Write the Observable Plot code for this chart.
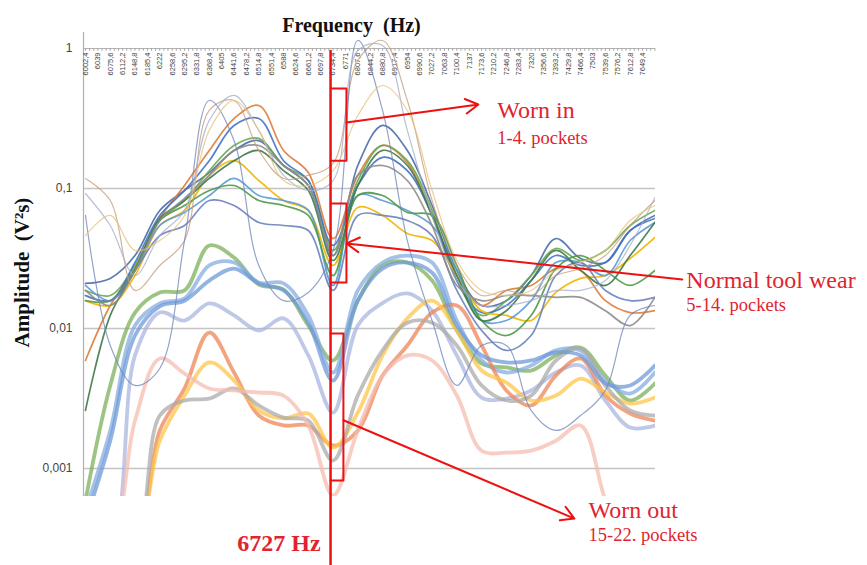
<!DOCTYPE html>
<html><head><meta charset="utf-8">
<script src="https://cdn.jsdelivr.net/npm/d3@7"></script>
<script src="https://cdn.jsdelivr.net/npm/@observablehq/plot@0.6"></script>
<style>body{margin:0;background:#fff}</style>
</head><body><div id="chart"></div>
<script>
// sample frequencies (Hz) at which the curves were read
const freqs = [6002.4, 6075.6, 6148.8, 6222, 6295.2, 6368.4, 6441.6, 6514.8, 6588, 6661.2, 6734.4, 6807.6,
               6880.8, 6954, 7027.2, 7100.4, 7173.6, 7246.8, 7320, 7393.2, 7466.4, 7539.6, 7612.8, 7686];
// category tick positions and labels on the top axis
const tickFreqs = [6002.4, 6039, 6075.6, 6112.2, 6148.8, 6185.4, 6222, 6258.6, 6295.2, 6331.8, 6368.4, 6405,
  6441.6, 6478.2, 6514.8, 6551.4, 6588, 6624.6, 6661.2, 6697.8, 6734.4, 6771, 6807.6, 6844.2, 6880.8, 6917.4,
  6954, 6990.6, 7027.2, 7063.8, 7100.4, 7137, 7173.6, 7210.2, 7246.8, 7283.4, 7320, 7356.6, 7393.2, 7429.8,
  7466.4, 7503, 7539.6, 7576.2, 7612.8, 7649.4];
const tickLabels = ["6002,4","6039","6075,6","6112,2","6148,8","6185,4","6222","6258,6","6295,2","6331,8",
  "6368,4","6405","6441,6","6478,2","6514,8","6551,4","6588","6624,6","6661,2","6697,8","6734,4","6771",
  "6807,6","6844,2","6880,8","6917,4","6954","6990,6","7027,2","7063,8","7100,4","7137","7173,6","7210,2",
  "7246,8","7283,4","7320","7356,6","7393,2","7429,8","7466,4","7503","7539,6","7576,2","7612,8","7649,4"];
const yTicks = [1, 0.1, 0.01, 0.001];

// Worn in: pockets 1-4
const p01 = [0.118,0.0821,0.0187,0.0282,0.0425,0.361,0.425,0.187,0.118,0.124,0.151,0.821,1.141,0.425,0.0821,0.0282,0.0172,0.0187,0.0172,0.0239,0.0268,0.0332,0.0544,0.0821];
const p02 = [0.0642,0.00756,0.00392,0.00518,0.0425,0.425,0.220,0.0282,0.0158,0.0181,0.0361,1.141,0.361,0.0425,0.0114,0.00392,0.00756,0.00756,0.00260,0.00187,0.00239,0.00361,0.0124,0.0146];
const p03 = [0.0921,0.0544,0.0239,0.0461,0.0697,0.306,0.462,0.260,0.124,0.0968,0.114,0.968,1.05,0.260,0.0642,0.0220,0.0146,0.0146,0.0158,0.0187,0.0187,0.0220,0.0392,0.0863];
const p04 = [0.0461,0.0642,0.0361,0.0425,0.0642,0.260,0.425,0.260,0.114,0.105,0.134,0.332,0.544,0.361,0.0968,0.0306,0.0187,0.0172,0.0187,0.0260,0.0296,0.0361,0.0591,0.0756];
// Normal tool wear: pockets 5-14
const p05 = [0.0210,0.0228,0.0332,0.0697,0.0968,0.130,0.187,0.220,0.146,0.105,0.0332,0.146,0.282,0.187,0.0756,0.0260,0.0146,0.0158,0.0239,0.0439,0.0316,0.0296,0.0501,0.0642];
const p06 = [0.00591,0.0146,0.0268,0.0611,0.105,0.187,0.316,0.392,0.187,0.130,0.0439,0.124,0.203,0.153,0.0642,0.0239,0.0146,0.0187,0.0203,0.0268,0.0260,0.0158,0.0130,0.0134];
const p07 = [0.0187,0.0172,0.0282,0.0591,0.0821,0.134,0.203,0.228,0.146,0.114,0.0361,0.114,0.203,0.158,0.0697,0.0220,0.0124,0.0158,0.0239,0.0373,0.0306,0.0361,0.0544,0.0697];
const p08 = [0.0172,0.0158,0.0296,0.0642,0.0968,0.158,0.282,0.316,0.158,0.114,0.0392,0.105,0.167,0.134,0.0642,0.0220,0.0130,0.0146,0.0220,0.0332,0.0282,0.0296,0.0501,0.0611];
const p09 = [0.0158,0.0146,0.0239,0.0544,0.0697,0.124,0.158,0.114,0.0821,0.0697,0.0282,0.0732,0.0642,0.0477,0.0425,0.0239,0.0134,0.0124,0.0114,0.0181,0.0228,0.0239,0.0316,0.0447];
const p10 = [0.0203,0.0158,0.0260,0.0544,0.0674,0.0891,0.118,0.0891,0.0821,0.0697,0.0203,0.0891,0.0821,0.0697,0.0544,0.0260,0.0114,0.0114,0.0158,0.0296,0.0296,0.0239,0.0425,0.0572];
const p11 = [0.0158,0.0158,0.0268,0.0591,0.0756,0.0968,0.105,0.0821,0.0756,0.0642,0.0239,0.0891,0.0891,0.0674,0.0642,0.0282,0.0114,0.00891,0.0124,0.0268,0.0332,0.0260,0.0203,0.0260];
const p12 = [0.0172,0.0158,0.0260,0.0461,0.0544,0.0821,0.0756,0.0572,0.0544,0.0501,0.0187,0.0642,0.0642,0.0591,0.0461,0.0187,0.00968,0.00697,0.00891,0.0239,0.0296,0.0187,0.0158,0.0167];
const p13 = [0.00260,0.0124,0.0260,0.0611,0.0821,0.118,0.158,0.187,0.134,0.0968,0.0306,0.105,0.187,0.146,0.0642,0.0239,0.0114,0.0134,0.0220,0.0361,0.0260,0.0203,0.0332,0.0572];
const p14 = [0.0187,0.0146,0.0260,0.0591,0.0850,0.124,0.187,0.203,0.146,0.105,0.0332,0.124,0.146,0.114,0.0544,0.0203,0.0158,0.0172,0.0172,0.0167,0.0167,0.0134,0.0105,0.0167];
// Worn out: pockets 15-22
const p15 = [0.000591,0.00392,0.0130,0.0181,0.0187,0.0392,0.0321,0.0206,0.0190,0.0105,0.00591,0.0158,0.0282,0.0296,0.0220,0.00968,0.00562,0.00527,0.00501,0.00642,0.00732,0.00461,0.00306,0.00405];
const p16 = [0.000501,0.00187,0.0105,0.0151,0.0164,0.0282,0.0296,0.0213,0.0210,0.0124,0.00485,0.0187,0.0296,0.0332,0.0296,0.0114,0.00591,0.00485,0.00544,0.00697,0.00697,0.00425,0.00343,0.00485];
const p17 = [0.000306,0.000306,0.00642,0.0130,0.0114,0.0151,0.0124,0.00968,0.0118,0.00642,0.00251,0.0105,0.0152,0.0178,0.0134,0.00642,0.00321,0.00316,0.00361,0.00485,0.00544,0.00306,0.00196,0.00203];
const p18 = [0.000306,0.000306,0.000306,0.00187,0.00373,0.00936,0.00485,0.00239,0.00203,0.00203,0.00146,0.00187,0.00461,0.00756,0.0130,0.0146,0.00756,0.00361,0.00282,0.00461,0.00611,0.00332,0.00247,0.00220];
const p19 = [0.000306,0.000306,0.000306,0.00158,0.00332,0.00572,0.00425,0.00260,0.00228,0.00247,0.00141,0.00251,0.00642,0.0118,0.0158,0.00968,0.00501,0.00411,0.00306,0.00332,0.00439,0.00349,0.00291,0.00321];
const p20 = [0.000306,0.000306,0.000306,0.00239,0.00306,0.00316,0.00373,0.00282,0.00231,0.00220,0.00114,0.00332,0.00697,0.0110,0.0110,0.00756,0.00392,0.00306,0.00332,0.00591,0.00720,0.00392,0.00260,0.00239];
const p21 = [0.000306,0.000306,0.00220,0.00611,0.00477,0.00373,0.00361,0.00349,0.00332,0.00203,0.000642,0.00187,0.00461,0.00642,0.00591,0.00332,0.00134,0.00130,0.00134,0.00158,0.00203,0.000591,0.000220,0.000220];
const p22 = [0.000425,0.00158,0.00891,0.0144,0.0158,0.0220,0.0268,0.0210,0.0187,0.0110,0.00425,0.0158,0.0268,0.0296,0.0251,0.0105,0.00642,0.00572,0.00591,0.00674,0.00642,0.00405,0.00392,0.00544];

const wornOut = [
  {v:p15, c:"#7cb05a"}, {v:p16, c:"#86aee0"}, {v:p17, c:"#aab5df"}, {v:p18, c:"#ee8455"},
  {v:p19, c:"#ffc64a"}, {v:p20, c:"#ababab"}, {v:p21, c:"#f4bcb0"}, {v:p22, c:"#6f9ad8"}];
const normal = [
  {v:p05, c:"#4a6da7"}, {v:p06, c:"#e07b39"}, {v:p07, c:"#6aa84f"}, {v:p08, c:"#4472c4"},
  {v:p09, c:"#f2b400"}, {v:p10, c:"#5b9bd5"}, {v:p11, c:"#4f9a46"}, {v:p12, c:"#6c82c0"},
  {v:p13, c:"#3f7a4a"}, {v:p14, c:"#8c8c8c"}];
const wornIn = [
  {v:p01, c:"#c49a7a"}, {v:p02, c:"#6f86b8"}, {v:p03, c:"#a3abc8"}, {v:p04, c:"#e6c27a"}];

const xDomain = [5996.5, 7687.8];
const yDomain = [0.000631, 1.301];
const red = "#ee1111", redText = "#e0242f", serif = "Liberation Serif, Times New Roman, serif";
const minorTicks = d3.range(0, 139).map(i => 6002.4 + i * 12.2);

const marks = [
  Plot.ruleY([0.1, 0.01, 0.001], {stroke: "#c4c4c4", strokeWidth: 1.5}),
  Plot.ruleY([1], {stroke: "#b4b4b4"}),
  Plot.ruleX(minorTicks, {y1: 1, y2: 0.955, stroke: "#a8a8a8"}),
  Plot.ruleX([xDomain[0]], {stroke: "#b0b0b0", strokeWidth: 1.2}),
  Plot.text(tickLabels, {x: (d, i) => tickFreqs[i], y: 1, rotate: -90, textAnchor: "end", dy: 4, fontSize: 7.5, fill: "#444"})
];
const addLines = (group, w, op) => group.forEach(s => marks.push(
  Plot.line(freqs.map((f, i) => ({f, a: s.v[i]})), {x: "f", y: "a", stroke: s.c, strokeWidth: w, strokeOpacity: op, curve: "catmull-rom", clip: true})));
addLines(wornOut, 3.8, 0.75);
addLines(normal, 1.7, 0.9);
addLines(wornIn, 1.2, 0.75);

// annotations
const bx = 6774, bx3 = 6765;
marks.push(
  Plot.ruleX([6727], {y1: 0.968, y2: 0.0002, stroke: red, strokeWidth: 2.5}),
  Plot.line([[6727,0.518],[bx,0.518],[bx,0.158],[6727,0.158]], {stroke: red, strokeWidth: 2}),
  Plot.line([[6727,0.0782],[bx,0.0782],[bx,0.0213],[6727,0.0213]], {stroke: red, strokeWidth: 2}),
  Plot.line([[6727,0.00921],[bx3,0.00921],[bx3,0.00082],[6727,0.00082]], {stroke: red, strokeWidth: 2}),
  Plot.arrow([{x1: bx, y1: 0.296, x2: 7164, y2: 0.398}], {x1: "x1", y1: "y1", x2: "x2", y2: "y2", stroke: red, strokeWidth: 2, headLength: 11}),
  Plot.arrow([{x1: 7767, y1: 0.0224, x2: bx, y2: 0.0405}], {x1: "x1", y1: "y1", x2: "x2", y2: "y2", stroke: red, strokeWidth: 2, headLength: 11}),
  Plot.arrow([{x1: bx3, y1: 0.00221, x2: 7448, y2: 0.000439}], {x1: "x1", y1: "y1", x2: "x2", y2: "y2", stroke: red, strokeWidth: 2, headLength: 11}),
  Plot.text(["Worn in"], {x: 7220, y: 0.361, textAnchor: "start", fontSize: 24, fill: redText, fontFamily: serif}),
  Plot.text(["1-4. pockets"], {x: 7220, y: 0.228, textAnchor: "start", fontSize: 18.5, fill: redText, fontFamily: serif}),
  Plot.text(["Normal tool wear"], {x: 7779, y: 0.0220, textAnchor: "start", fontSize: 24, fill: redText, fontFamily: serif}),
  Plot.text(["5-14. pockets"], {x: 7779, y: 0.0146, textAnchor: "start", fontSize: 18.5, fill: redText, fontFamily: serif}),
  Plot.text(["Worn out"], {x: 7490, y: 0.000501, textAnchor: "start", fontSize: 24, fill: redText, fontFamily: serif}),
  Plot.text(["15-22. pockets"], {x: 7490, y: 0.000332, textAnchor: "start", fontSize: 18.5, fill: redText, fontFamily: serif}),
  Plot.text(["6727 Hz"], {x: 6727, y: 0.000291, dx: -10, textAnchor: "end", fontSize: 24, fontWeight: "bold", fill: redText, fontFamily: serif}),
  Plot.text(["Frequency\u00a0 (Hz)"], {frameAnchor: "top", dx: -18, dy: -15, fontSize: 20, fontWeight: "bold", fill: "#111", fontFamily: serif}),
  Plot.text(["Amplitude\u00a0 (V²s)"], {x: xDomain[0], y: 0.0251, dx: -61, rotate: -90, fontSize: 21, fontWeight: "bold", fill: "#111", fontFamily: serif})
);

const chart = Plot.plot({
  width: 867, height: 565,
  marginLeft: 83, marginRight: 212, marginTop: 32, marginBottom: 69,
  style: {fontFamily: "Liberation Sans, Arial, sans-serif", fontSize: "12px", color: "#444", background: "#fff", overflow: "visible"},
  x: {domain: xDomain, axis: null},
  y: {type: "log", domain: yDomain, ticks: yTicks, tickFormat: d => String(d).replace(".", ","), tickSize: 0, tickPadding: 11, label: null},
  marks
});
document.getElementById("chart").appendChild(chart);
</script>
</body></html>
